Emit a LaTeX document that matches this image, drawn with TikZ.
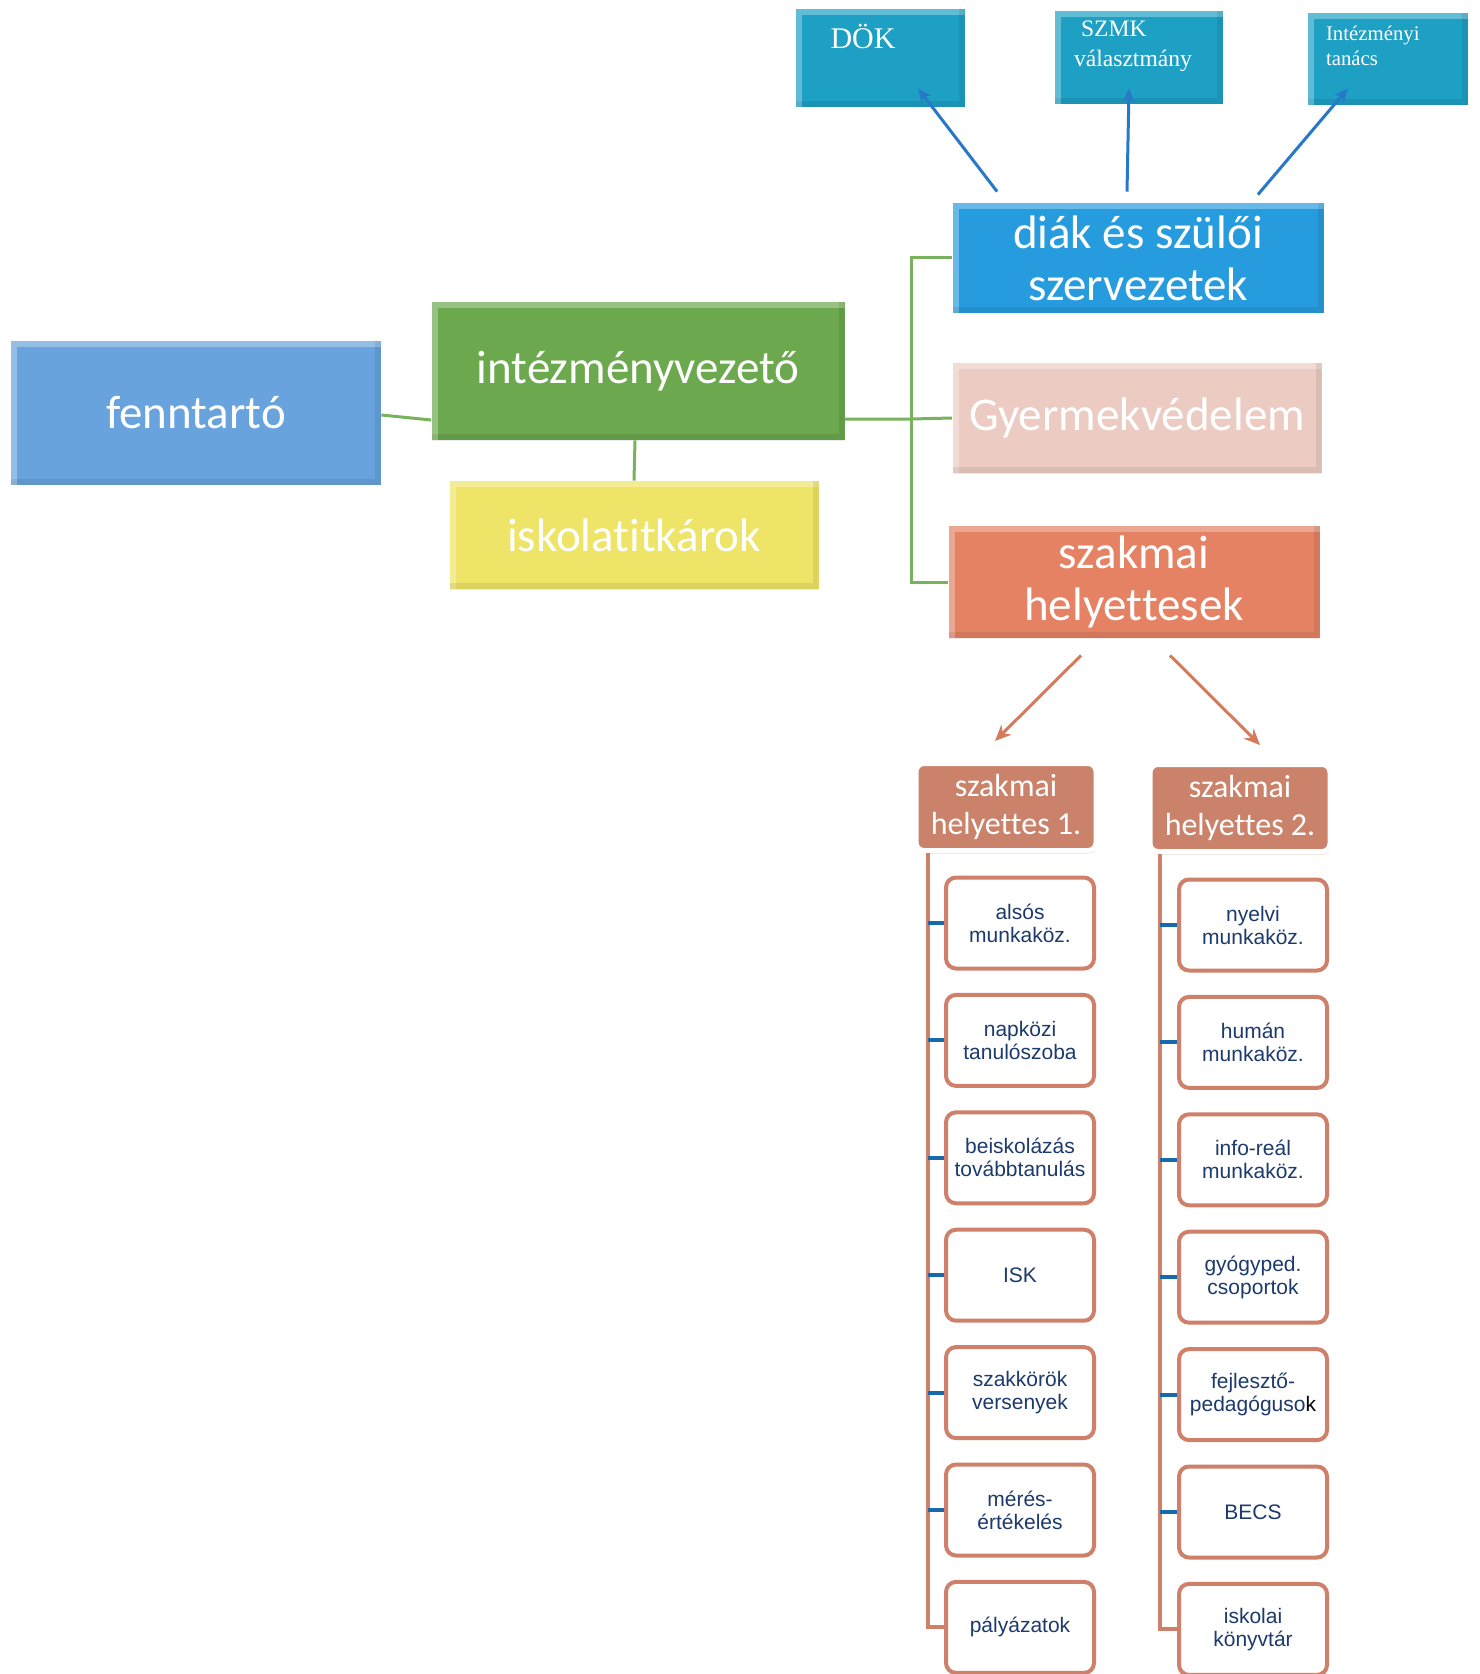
\documentclass[tikz,border=0pt]{standalone}
\usepackage{fontspec}
\setmainfont{Carlito}[Ligatures=NoCommon]
\newfontfamily\listfont{Liberation Sans}
\newfontfamily\oldfont{Liberation Serif}
\usepackage{xcolor}
\usepackage{tikz}
\usetikzlibrary{positioning,arrows.meta,shadows}

\definecolor{topblue}{RGB}{30,160,196}
\definecolor{diakblue}{RGB}{38,156,222}
\definecolor{fennblue}{RGB}{104,163,222}
\definecolor{vezgreen}{RGB}{108,168,78}
\definecolor{titkyellow}{RGB}{238,228,104}
\definecolor{gyvpink}{RGB}{236,204,194}
\definecolor{szhorange}{RGB}{229,130,100}
\definecolor{helybrown}{RGB}{203,130,106}
\definecolor{listedge}{RGB}{206,128,106}
\definecolor{listtext}{RGB}{28,58,108}
\definecolor{tickblue}{RGB}{24,104,172}
\definecolor{linegreen}{RGB}{120,178,92}
\definecolor{arrowblue}{RGB}{40,120,200}
\definecolor{arroworange}{RGB}{214,122,92}

\tikzset{
  bevel/.style={path picture={
    \draw[white,opacity=.3,line width=6pt] (path picture bounding box.south west) -- (path picture bounding box.north west) -- (path picture bounding box.north east);
    \draw[black,opacity=.08,line width=6pt] (path picture bounding box.north east) -- (path picture bounding box.south east) -- (path picture bounding box.south west);}},
  mainbox/.style={rectangle, inner sep=0pt, text=white, align=center, font=\fontsize{23.5}{26}\selectfont, bevel},
  topbox/.style={rectangle, inner sep=0pt, fill=topblue, bevel},
  toptext/.style={text=white, align=left, anchor=west, inner sep=0pt},
  helybox/.style={rectangle, rounded corners=4pt, fill=helybrown, draw=white, line width=2.5pt, inner sep=0pt, text=white, align=center, font=\fontsize{16}{19}\selectfont, minimum width=90pt, minimum height=43.5pt, drop shadow={shadow xshift=0.5pt,shadow yshift=-1.5pt,opacity=0.25}},
  listbox/.style={rectangle, rounded corners=5pt, draw=listedge, line width=2pt, fill=white, inner sep=0pt, minimum width=74pt, minimum height=45.5pt, align=center, text=listtext, font=\listfont\fontsize{10.5}{11.5}\selectfont},
  busline/.style={listedge, line width=2pt},
  tickline/.style={tickblue, line width=2pt},
  greenline/.style={linegreen, line width=1.5pt},
  bluearrow/.style={arrowblue, line width=1.5pt, -{Stealth[length=7pt,width=6pt]}},
  orangearrow/.style={arroworange, line width=1.5pt, -{Stealth[length=8pt,width=7pt]}}
}

\begin{document}
\begin{tikzpicture}[x=0.5pt,y=-0.5pt]
\clip (0,0) rectangle (1479,1674);
\fill[white] (0,0) rectangle (1479,1674);

% top row
\node[topbox, minimum width=84.5pt, minimum height=49pt] (dok) at (880,58) {};
\node[toptext, font=\oldfont\fontsize{15}{18}\selectfont] (doktxt) at ([xshift=17.5pt,yshift=-14pt]dok.north west) {DÖK};
\node[topbox, minimum width=84pt, minimum height=46.5pt] (szmk) at (1139,57.5) {};
\node[toptext, font=\oldfont\fontsize{11.8}{15}\selectfont] (szmktxt) at ([xshift=9.5pt,yshift=-18pt]szmk.north west) {\hspace*{3.5pt}SZMK\\választmány};
\node[topbox, minimum width=80pt, minimum height=46pt] (itan) at (1388,59) {};
\node[toptext, font=\oldfont\fontsize{10.4}{12.5}\selectfont] (itantxt) at ([xshift=9pt,yshift=-16.75pt]itan.north west) {Intézményi\\tanács};

% main boxes
\node[mainbox, fill=fennblue, minimum width=185pt, minimum height=71.5pt] (fenn) at (196,413) {fenntartó};
\node[mainbox, fill=vezgreen, minimum width=206.5pt, minimum height=69pt] (vez) at (638,371) {intézményvezető};
\node[mainbox, fill=titkyellow, minimum width=184.5pt, minimum height=54pt] (titk) at (634,535) {iskolatitkárok};
\node[mainbox, fill=diakblue, minimum width=185.5pt, minimum height=55pt] (diak) at (1138,258) {diák és szülői\\szervezetek};
\node[mainbox, fill=gyvpink, minimum width=184.5pt, minimum height=55pt] (gyv) at (1137,418) {Gyermekvédelem};
\node[mainbox, fill=szhorange, minimum width=185.5pt, minimum height=56pt] (szh) at (1134,582) {szakmai\\helyettesek};

\node[helybox] (szh1) at (1006,807) {szakmai\\helyettes 1.};
\node[helybox] (szh2) at (1240,808) {szakmai\\helyettes 2.};

% lists
\foreach \txt [count=\i] in {{alsós\\munkaköz.},{napközi\\tanulószoba},{beiskolázás\\továbbtanulás},{ISK},{szakkörök\\versenyek},{mérés-\\értékelés},{pályázatok}}
  \node[listbox] (la\i) at (1020,{923+117.4*(\i-1)}) {\txt};
\foreach \txt [count=\i] in {{nyelvi\\munkaköz.},{humán\\munkaköz.},{info-reál\\munkaköz.},{gyógyped.\\csoportok},{fejlesztő-\\pedagóguso{\color{black}k}},{BECS},{iskolai\\könyvtár}}
  \node[listbox] (lb\i) at (1253,{925+117.4*(\i-1)}) {\txt};

\draw[busline] ([xshift=7pt]szh1.south west) |- (la7.west);
\draw[busline] ([xshift=6pt]szh2.south west) |- (lb7.west);
\foreach \i in {1,...,6} {
  \draw[tickline] (la\i.west) -- ++(-8pt,0);
  \draw[tickline] (lb\i.west) -- ++(-8.5pt,0);
}

% connectors
\coordinate (busmid) at (911,419);
\draw[greenline] ([yshift=-1pt]fenn.east) -- ([yshift=-24.5pt]vez.west);
\draw[greenline] ([xshift=-1.5pt]vez.south) -- (titk.north);
\draw[greenline] ([yshift=-24pt]vez.east) -- (busmid) -- (gyv.west);
\draw[greenline] (diak.west) -| (busmid) |- (szh.west);

\draw[bluearrow] ([xshift=22.5pt,yshift=5.5pt]diak.north west) -- ([xshift=19pt,yshift=9.5pt]dok.south);
\draw[bluearrow] ([xshift=-5.5pt,yshift=5.5pt]diak.north) -- ([xshift=-5pt,yshift=8pt]szmk.south);
\draw[bluearrow] ([xshift=-33pt,yshift=4pt]diak.north east) -- ([xshift=-20pt,yshift=8.5pt]itan.south);
\draw[orangearrow] ([xshift=-26.5pt,yshift=-8.5pt]szh.south) -- ([xshift=-5.5pt,yshift=10pt]szh1.north);
\draw[orangearrow] ([xshift=18pt,yshift=-8.5pt]szh.south) -- ([xshift=10pt,yshift=8.5pt]szh2.north);
\end{tikzpicture}
\end{document}
